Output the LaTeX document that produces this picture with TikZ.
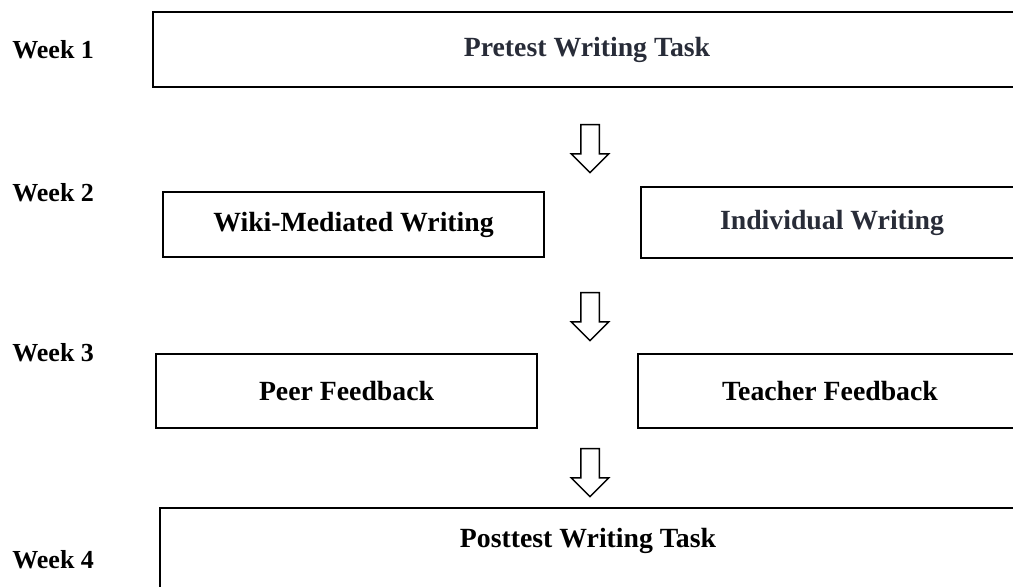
\documentclass[tikz,border=0pt]{standalone}
\usepackage{fontspec}
\setmainfont{Liberation Serif}
\usetikzlibrary{shapes.arrows}
\definecolor{slatetext}{RGB}{40,44,56}

\tikzset{
  stagebox/.style={draw, line width=1.5pt, inner sep=0pt},
  stagetext/.style={font=\fontsize{15.8}{19}\selectfont\bfseries},
  weeklabel/.style={font=\fontsize{14.8}{17}\selectfont\bfseries, anchor=west, inner sep=0pt},
  downarrow/.style={draw, line width=0.85pt, shape=single arrow, shape border rotate=270,
    minimum height=0.96cm, inner sep=0.17cm, single arrow head extend=0.19cm,
    single arrow tip angle=90}
}

\begin{document}
\begin{tikzpicture}[x=0.02cm, y=-0.02cm]
  \useasboundingbox (0,0) rectangle (1013,586);

  \node[weeklabel] (week1) at (12,50) {Week 1};
  \node[weeklabel] (week2) at (12,193) {Week 2};
  \node[weeklabel] (week3) at (12,353) {Week 3};
  \node[weeklabel] (week4) at (12,560) {Week 4};

  \node[stagebox, stagetext, text=slatetext, minimum width=17.36cm, minimum height=1.5cm] (pretest) at (587,49.5) {Pretest Writing Task};

  \node[stagebox, stagetext, minimum width=7.62cm, minimum height=1.3cm] (wiki) at (353.5,224.5) {Wiki-Mediated Writing};
  \node[stagebox, stagetext, text=slatetext, minimum width=7.64cm, minimum height=1.42cm] (indiv) at (832,222.5) {Individual Writing};

  \node[stagebox, stagetext, minimum width=7.62cm, minimum height=1.48cm] (peer) at (346.5,391) {Peer Feedback};
  \node[stagebox, stagetext, minimum width=7.68cm, minimum height=1.48cm] (teacher) at (830,391) {Teacher Feedback};

  \node[stagebox, minimum width=17.12cm, minimum height=2.24cm] (posttest) at (588,564) {};
  \node[stagetext] (posttestlbl) at (588,541) {Posttest Writing Task};

  \node[downarrow] (arrowA) at (590,144) {};
  \node[downarrow] (arrowB) at (590,312) {};
  \node[downarrow] (arrowC) at (590,468) {};
\end{tikzpicture}
\end{document}
